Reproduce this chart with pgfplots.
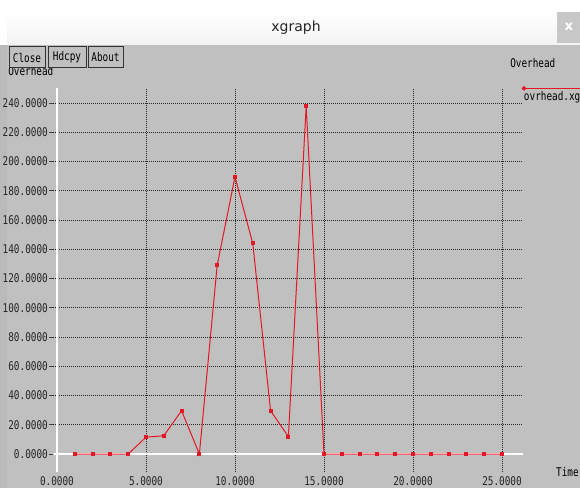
\documentclass[border=0pt]{standalone}
\usepackage{fontspec}
\setmainfont{DejaVu Sans}
\newfontfamily\xg[FakeStretch=0.78]{DejaVu Sans Mono}
\usepackage{pgfplots}
\pgfplotsset{compat=1.18}
\definecolor{wingray}{RGB}{192,192,192}
\definecolor{plotred}{RGB}{228,24,36}
\newcommand\xgfont{\xg\fontsize{9}{10}\selectfont}

\begin{document}
\begin{tikzpicture}
\useasboundingbox (0,0) rectangle (435pt,-366pt);
% window frame, 1px = 0.75pt, y downwards
\begin{scope}[x=0.75pt,y=-0.75pt]
  \fill[white] (0,0) rectangle (580,488);
  \shade[top color=white, bottom color=black!6, rounded corners=3] (7,12) rectangle (580,52);
  \fill[wingray] (7,45) rectangle (580,488);
  \fill[black!27] (0,45) rectangle (7,488);
  \node[font=\fontsize{10.5}{12}\selectfont, text=black!85] at (296,28) {xgraph};
  \fill[black!22] (557,12) rectangle (580,43);
  \node[text=white, font=\bfseries\fontsize{10}{12}\selectfont] at (569,27) {x};
\end{scope}

\begin{axis}[
    at={(40.05pt,-354pt)}, anchor=south west,
    scale only axis, width=352.2pt, height=288pt,
    xmin=-0.2, xmax=26.18, ymin=-12.3, ymax=250.3,
    axis line style={draw=none},
    xtick={0,5,...,25}, ytick={0,20,...,240},
    xtick style={draw=none},
    ytick style={draw=black!75, line width=0.6pt},
    ytick pos=left, tick align=outside, major tick length=3pt,
    grid=major,
    major grid style={black!85, line width=0.6pt, dash pattern=on 0.75pt off 0.75pt},
    tick label style={font=\xgfont, text=black!85},
    xticklabel style={anchor=center, yshift=-4pt},
    yticklabel style={anchor=east, inner sep=0pt, xshift=-1pt},
    /pgf/number format/.cd, fixed, fixed zerofill, precision=4,
      assume math mode=true, 1000 sep={},
    /pgfplots/.cd,
    legend style={at={(1.0021,0.9766)}, anchor=west, draw=none, fill=none,
      inner sep=0pt, outer sep=0pt, font=\xgfont,
      nodes={inner sep=0pt}, /tikz/every even column/.append style={column sep=0pt}},
    legend cell align=left,
]
\draw[white, line width=1pt] (axis cs:0,-12.3) -- (axis cs:0,250.3);
\draw[white, line width=1pt] (axis cs:-0.2,0) -- (axis cs:26.18,0);
\addplot[plotred, line width=0.75pt, mark=square*, mark size=1.1pt,
  legend image code/.code={
    \draw[overlay, plotred, line width=0.9pt] (0pt,6.5pt) -- (60pt,6.5pt);
    \fill[overlay, plotred] (0pt,6.5pt) circle (1.3pt);}]
  coordinates {
  (1,0) (2,0) (3,0) (4,0) (5,11.5) (6,12.5) (7,29.6) (8,0)
  (9,129) (10,189.5) (11,144) (12,29.6) (13,11.9) (14,238)
  (15,0) (16,0) (17,0) (18,0) (19,0) (20,0) (21,0) (22,0)
  (23,0) (24,0) (25,0)
  };
\addlegendentry{ovrhead.xg}
\end{axis}

\begin{scope}[x=0.75pt,y=-0.75pt]
  \node[font=\xgfont, anchor=west, inner sep=0pt] at (8,71) {Overhead};
  \foreach \a/\b/\t in {9/45/Close, 48/86/Hdcpy, 88/123/About} {
    \fill[wingray] (\a,47) rectangle (\b,68);
    \draw[black!80, line width=0.75pt] (\a,47) rectangle (\b,68);
    \node[font=\xgfont, inner sep=0pt] at ({(\a+\b)/2},57.5) {\t};
  }
  \node[font=\xgfont, anchor=west, inner sep=0pt] at (510,63) {Overhead};
  \node[font=\xgfont, anchor=east, inner sep=0pt] at (579,472) {Time};
\end{scope}
\end{tikzpicture}
\end{document}
